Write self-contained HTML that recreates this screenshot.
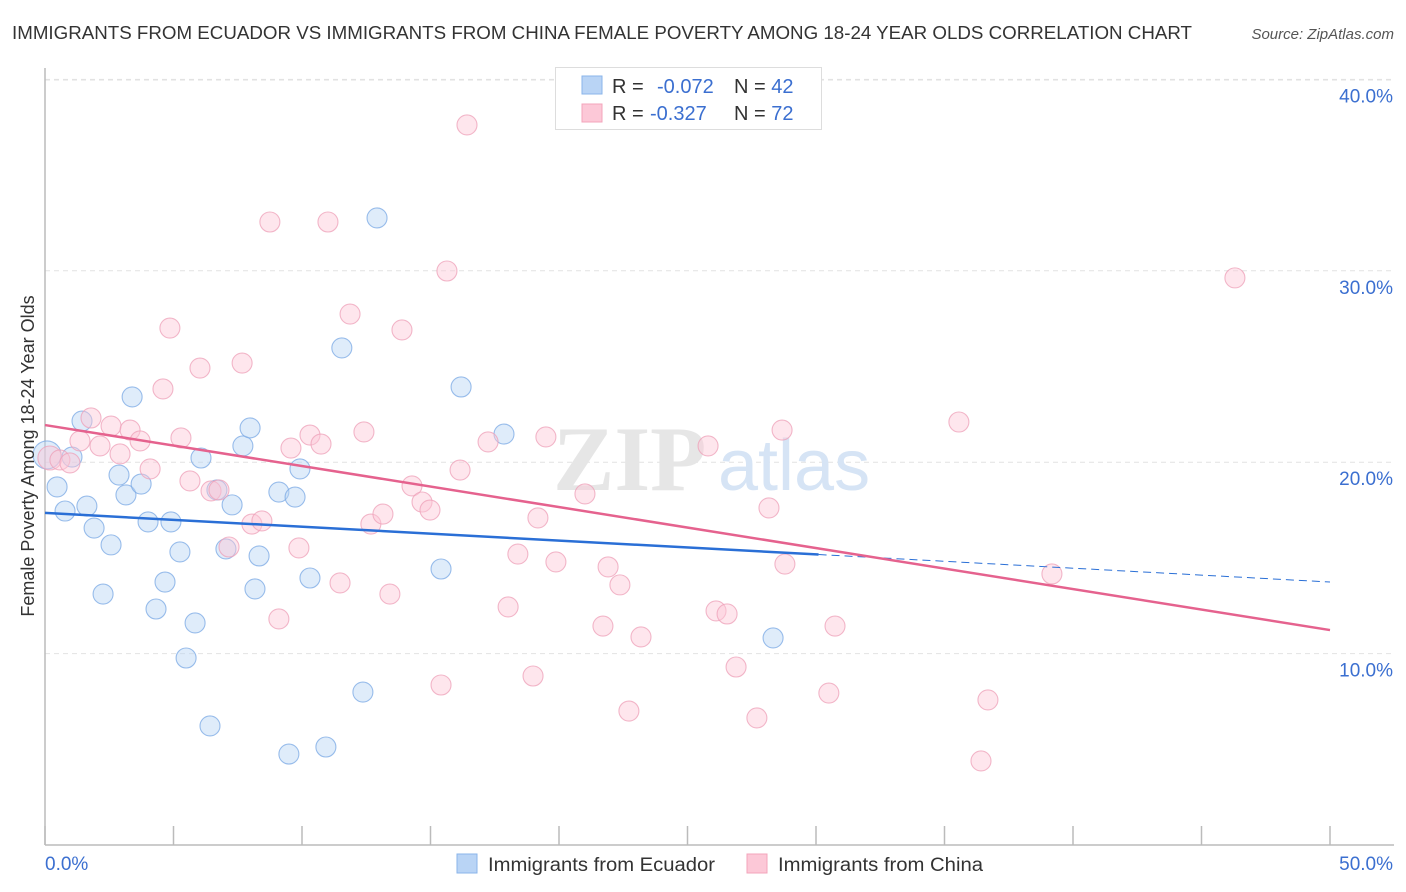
<!DOCTYPE html>
<html><head><meta charset="utf-8"><style>
body{margin:0;background:#fff;font-family:"Liberation Sans",sans-serif;}
svg{display:block}
</style></head><body>
<svg id="chart" width="1406" height="892" xmlns="http://www.w3.org/2000/svg">
<text x="12" y="39" font-size="18" fill="#333" textLength="1180" lengthAdjust="spacingAndGlyphs">IMMIGRANTS FROM ECUADOR VS IMMIGRANTS FROM CHINA FEMALE POVERTY AMONG 18-24 YEAR OLDS CORRELATION CHART</text>
<text x="1394" y="39" font-size="15" fill="#555" font-style="italic" text-anchor="end">Source: ZipAtlas.com</text>
<g id="grid"></g>
<g><text x="553" y="490" font-size="92" font-family="Liberation Serif,serif" fill="#e6e6e6" font-weight="bold">ZIP</text><text x="718" y="490" font-size="72" fill="#d6e4f5">atlas</text></g>
<g id="axes"></g>
<g id="blue"></g>
<g id="pink"></g>
<g id="trends"></g>
<text transform="translate(34,456) rotate(-90)" font-size="18" fill="#333" text-anchor="middle">Female Poverty Among 18-24 Year Olds</text>
<g>
<rect x="555.5" y="67.5" width="266" height="62" fill="#fff" stroke="#ddd"/>
<rect x="582" y="76" width="20" height="18" fill="#b9d4f5" stroke="#8ab4ea"/>
<rect x="582" y="104" width="20" height="18" fill="#fcc8d7" stroke="#f3a4bb"/>
<text x="612" y="93" font-size="20" fill="#333">R = <tspan fill="#3b6fd0" x="657">-0.072</tspan><tspan x="734">N = </tspan><tspan fill="#3b6fd0">42</tspan></text>
<text x="612" y="120" font-size="20" fill="#333">R = <tspan fill="#3b6fd0" x="650">-0.327</tspan><tspan x="734">N = </tspan><tspan fill="#3b6fd0">72</tspan></text>
</g>
<g>
<rect x="457" y="854" width="20" height="19" fill="#b9d4f5" stroke="#8ab4ea"/>
<text x="488" y="871" font-size="19" fill="#333" textLength="227" lengthAdjust="spacingAndGlyphs">Immigrants from Ecuador</text>
<rect x="747" y="854" width="20" height="19" fill="#fcc8d7" stroke="#f3a4bb"/>
<text x="778" y="871" font-size="19" fill="#333" textLength="205" lengthAdjust="spacingAndGlyphs">Immigrants from China</text>
</g>
</svg>
<script>
const blueX=[0.08,0.47,0.78,1.05,1.44,1.63,1.91,2.26,2.57,2.88,3.15,3.39,3.74,4.01,4.32,4.67,4.90,5.25,5.49,5.84,6.07,6.42,6.69,7.04,7.28,7.70,7.98,8.17,8.33,9.10,9.49,9.73,9.92,10.31,10.93,11.55,12.37,12.92,15.41,16.19,17.86,28.33];
const blueY=[20.38,18.71,17.45,20.27,22.15,17.71,16.56,13.11,15.68,19.33,18.29,23.41,18.86,16.88,12.33,13.74,16.88,15.31,9.77,11.60,20.22,6.22,18.55,15.47,17.77,20.85,21.79,13.38,15.10,18.44,4.75,18.18,19.65,13.95,5.12,25.97,7.99,32.76,14.42,23.93,21.47,10.82];
const pinkX=[0.19,0.58,0.97,1.36,1.79,2.14,2.57,2.92,3.31,3.70,4.09,4.59,4.86,5.29,5.64,6.03,6.46,6.77,7.16,7.67,8.05,8.44,8.75,9.10,9.57,9.88,10.31,10.74,11.01,11.48,11.87,12.41,12.68,13.15,13.42,13.89,14.28,14.67,14.98,15.41,15.64,16.15,16.42,17.24,18.02,18.40,18.99,19.18,19.49,19.88,21.01,21.71,21.91,22.37,22.72,23.19,25.80,26.11,26.54,26.89,27.70,28.17,28.68,28.79,30.50,30.74,35.56,36.42,36.69,39.18,46.30,24.71];
const pinkY=[20.22,20.12,19.96,21.11,22.31,20.85,21.89,20.43,21.68,21.11,19.65,23.83,27.01,21.27,19.02,24.92,18.50,18.55,15.57,25.18,16.77,16.93,32.55,11.81,20.74,15.52,21.42,20.95,32.55,13.69,27.74,21.58,16.77,17.29,13.11,26.91,18.76,17.92,17.50,8.36,29.99,19.59,37.62,21.06,12.44,15.20,8.83,17.09,21.32,14.79,18.34,11.44,14.53,13.59,7.00,10.87,20.85,12.23,12.07,9.30,6.64,17.61,21.68,14.68,7.94,11.44,22.10,4.39,7.58,14.16,29.63,38.93];
const yTicks=[10,20,30,40];
const yTickLabels=["10.0%","20.0%","30.0%","40.0%"];
const xTicks=[0,5,10,15,20,25,30,35,40,45,50];
const blueTrend=[17.35,13.74]; // y at x=0 and x=50
const pinkTrend=[21.94,11.23];
const blueSolidEnd=30.1;

const X0=45,X1=1330,Y0=845,PX_PER=19.14;
const sx=v=>X0+(v/50)*(X1-X0);
const sy=v=>Y0-v*PX_PER;
const NS="http://www.w3.org/2000/svg";
function mk(tag,attrs,parent){const e=document.createElementNS(NS,tag);for(const k in attrs)e.setAttribute(k,attrs[k]);parent.appendChild(e);return e;}
const grid=document.getElementById('grid'),axes=document.getElementById('axes');
yTicks.forEach((t,i)=>{
  const l=mk('line',{x1:X0,x2:1394,y1:sy(t),y2:sy(t),stroke:'#e2e2e2','stroke-dasharray':'5,4'},grid);
  
  
  const tx=mk('text',{x:1393,y:sy(t)+23,'font-size':19,fill:'#3b6fd0','text-anchor':'end'},axes);
  tx.textContent=yTickLabels[i];
  
  
});
const topg=mk('line',{x1:X0,x2:1394,y1:80,y2:80,stroke:'#e2e2e2','stroke-dasharray':'5,4'},grid);


const ya=mk('line',{x1:X0,x2:X0,y1:68,y2:Y0,stroke:'#bbb','stroke-width':1.5},axes);


const xa=mk('line',{x1:X0,x2:1394,y1:Y0,y2:Y0,stroke:'#bbb','stroke-width':1.5},axes);


xTicks.forEach(t=>{
  const l=mk('line',{x1:sx(t),x2:sx(t),y1:826,y2:Y0,stroke:'#bbb','stroke-width':1.5},axes);
  
  
});
const xl0=mk('text',{x:45,y:870,'font-size':19,fill:'#3b6fd0'},axes);xl0.textContent='0.0%';


const xl1=mk('text',{x:1393,y:870,'font-size':19,fill:'#3b6fd0','text-anchor':'end'},axes);xl1.textContent='50.0%';



function pts(xs,ys,g,fill,stroke,name){
  xs.forEach((x,i)=>{
    const r=(i===0)?(name==='ecuador-point'?14:12):10;
    const c=mk('circle',{cx:sx(x),cy:sy(ys[i]),r:r,fill:fill,'fill-opacity':0.45,stroke:stroke,'stroke-opacity':0.75,'stroke-width':1.1},g);
    
    
  });
}
pts(blueX,blueY,document.getElementById('blue'),'#b9d4f5','#7aa8e4','ecuador-point');
pts(pinkX,pinkY,document.getElementById('pink'),'#fcc8d7','#eea0b8','china-point');

const tr=document.getElementById('trends');
const by=x=>blueTrend[0]+(blueTrend[1]-blueTrend[0])*x/50;
const py=x=>pinkTrend[0]+(pinkTrend[1]-pinkTrend[0])*x/50;
const b1=mk('line',{x1:sx(0),y1:sy(by(0)),x2:sx(blueSolidEnd),y2:sy(by(blueSolidEnd)),stroke:'#2a6fd6','stroke-width':2.5},tr);


const b2=mk('line',{x1:sx(blueSolidEnd),y1:sy(by(blueSolidEnd)),x2:sx(50),y2:sy(by(50)),stroke:'#2a6fd6','stroke-width':1,'stroke-dasharray':'8,5'},tr);


const p1=mk('line',{x1:sx(0),y1:sy(py(0)),x2:sx(50),y2:sy(py(50)),stroke:'#e5628e','stroke-width':2.5},tr);


</script>
</body></html>
